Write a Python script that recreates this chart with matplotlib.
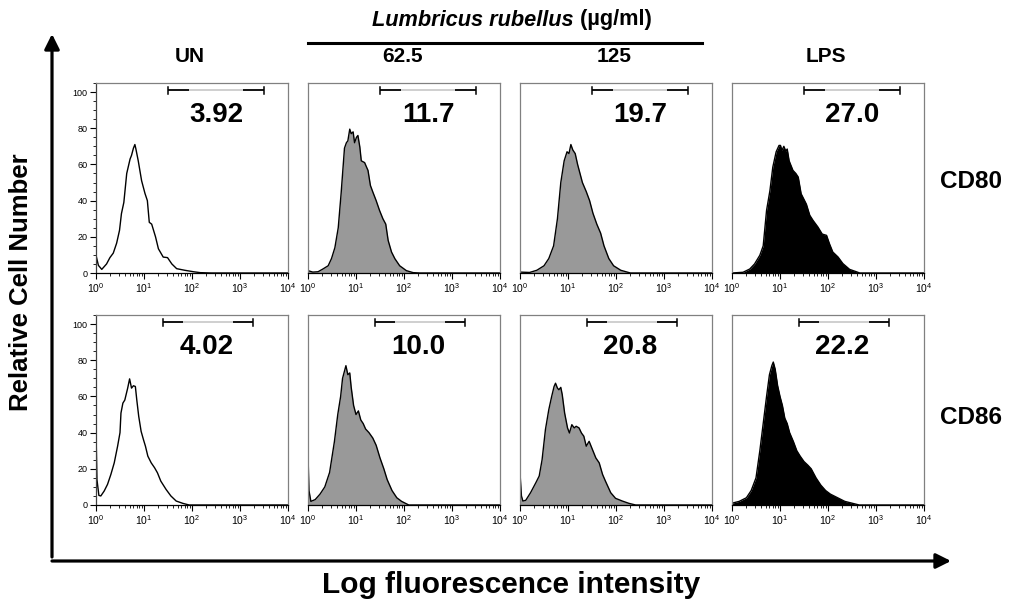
import matplotlib
matplotlib.use('Agg')
import matplotlib.pyplot as plt
from matplotlib.patches import FancyArrowPatch
from matplotlib.lines import Line2D
from matplotlib.ticker import LogLocator, MultipleLocator, NullFormatter, FixedLocator, FixedFormatter
import numpy as np

plt.rcParams['font.family'] = ['Liberation Sans', 'DejaVu Sans']
plt.rcParams['mathtext.fontset'] = 'custom'
plt.rcParams['mathtext.rm'] = 'Liberation Sans'
plt.rcParams['mathtext.it'] = 'Liberation Sans:italic'
plt.rcParams['mathtext.bf'] = 'Liberation Sans:bold'

# ---------------- data ----------------
columns = ['UN', '62.5', '125', 'LPS']
markers = ['CD80', 'CD86']
percent_cd80 = ['3.92', '11.7', '19.7', '27.0']
percent_cd86 = ['4.02', '10.0', '20.8', '22.2']
gate_cd80 = [1.5, 3.5]     # log10 intensity
gate_cd86 = [1.4, 3.27]
x_ticklabels = ['$10^{0}$', '$10^{1}$', '$10^{2}$', '$10^{3}$', '$10^{4}$']
y_ticks = [0, 20, 40, 60, 80, 100]

# CD80 histograms (log10 intensity, relative cell number)
cd80_un_x = [0, 0.05, 0.12, 0.22, 0.29, 0.36, 0.43, 0.49, 0.53, 0.58, 0.64, 0.71, 0.74, 0.78, 0.81,
             0.83, 0.88, 0.95, 1.02, 1.07, 1.11, 1.16, 1.24, 1.30, 1.40, 1.49, 1.58, 1.68, 1.85, 2.03,
             2.17, 2.4, 4.0]
cd80_un_y = [9.8, 4.2, 2, 5, 8.5, 11, 16.5, 23.6, 32.8, 39, 55, 63, 65, 69, 71,
             68.7, 62, 51, 44, 40, 28, 27, 20, 13.4, 8.8, 8.5, 5, 2.4, 1.5, 0.7,
             0.2, 0, 0]

cd80_625_x = [0, 0.1, 0.21, 0.31, 0.42, 0.49, 0.56, 0.63, 0.69, 0.76, 0.80, 0.83, 0.87, 0.90, 0.94,
              0.97, 1.01, 1.04, 1.08, 1.11, 1.18, 1.22, 1.25, 1.30, 1.35, 1.42, 1.49, 1.56, 1.62,
              1.67, 1.74, 1.81, 1.91, 2.05, 2.19, 2.33, 4.0]
cd80_625_y = [1.3, 0.5, 0.7, 2.2, 4, 8, 14, 25, 44, 69, 72, 73, 79.5, 77, 78,
              72, 75, 76, 69.6, 62, 61, 58.5, 56.7, 48.4, 44.8, 40, 34.6, 30, 27,
              18, 11.6, 7.9, 4, 1.3, 0.2, 0, 0]

cd80_125_x = [0, 0.2, 0.35, 0.5, 0.6, 0.7, 0.78, 0.85, 0.92, 0.98, 1.02, 1.06, 1.1, 1.15, 1.2,
              1.25, 1.3, 1.38, 1.45, 1.52, 1.6, 1.68, 1.75, 1.85, 1.95, 2.1, 2.3, 4.0]
cd80_125_y = [0.5, 0.3, 1.5, 4, 8, 15, 30, 50, 62, 67, 66, 71, 68, 66, 60,
              55, 50, 45, 40, 33, 27, 22, 15, 8, 4, 1.5, 0, 0]

cd80_lps_x = [0, 0.23, 0.37, 0.47, 0.58, 0.65, 0.72, 0.79, 0.85, 0.92, 0.98, 1.01, 1.04, 1.08, 1.12,
              1.15, 1.19, 1.22, 1.27, 1.33, 1.38, 1.44, 1.55, 1.62, 1.69, 1.79, 1.88, 1.97, 2.03,
              2.10, 2.21, 2.31, 2.45, 2.59, 2.66, 4.0]
cd80_lps_y = [0, 0.4, 2.2, 5, 9.8, 15, 34.6, 45.5, 58.5, 67, 70.5, 70.5, 67.8, 70, 67.4,
              68.5, 62, 60, 56.7, 55, 53, 43.8, 38, 31.9, 29, 25.4, 21.5, 20.8, 16.2,
              11.6, 8.8, 5.2, 2, 0.7, 0, 0]

# CD86 histograms
cd86_un_x = [0, 0.02, 0.06, 0.10, 0.17, 0.24, 0.31, 0.38, 0.45, 0.5, 0.52, 0.56, 0.6, 0.66, 0.70,
             0.74, 0.78, 0.82, 0.85, 0.89, 0.94, 0.99, 1.03, 1.08, 1.15, 1.22, 1.28, 1.35, 1.46,
             1.56, 1.67, 1.81, 1.94, 4.0]
cd86_un_y = [40.7, 14, 5.3, 5, 7.7, 11.4, 16.9, 23.3, 32.5, 40, 50.8, 56.3, 58, 64.6, 69.7,
             64.6, 65.9, 65.5, 58, 49, 40.7, 36, 32.5, 27, 23.3, 20.6, 17.8, 13.2, 8.6,
             5, 2.2, 0.9, 0, 0]

cd86_625_x = [0, 0.02, 0.06, 0.15, 0.25, 0.35, 0.45, 0.55, 0.62, 0.68, 0.72, 0.76, 0.79, 0.83, 0.87,
              0.9, 0.95, 1.0, 1.05, 1.1, 1.15, 1.2, 1.27, 1.35, 1.42, 1.5, 1.58, 1.65, 1.75, 1.85,
              1.95, 2.1, 4.0]
cd86_625_y = [28, 8, 2, 3, 6, 10, 18, 35, 50, 60, 70, 74, 77, 72, 73,
              65, 55, 50, 52, 47, 45, 42, 40, 37, 33, 26, 20, 14, 8, 4,
              2, 0, 0]

cd86_125_x = [0, 0.03, 0.06, 0.12, 0.22, 0.33, 0.40, 0.46, 0.53, 0.60, 0.66, 0.71, 0.74, 0.78, 0.81,
              0.85, 0.88, 0.93, 0.99, 1.03, 1.08, 1.13, 1.17, 1.23, 1.28, 1.33, 1.38, 1.44, 1.51,
              1.58, 1.65, 1.72, 1.78, 1.89, 1.99, 2.13, 2.27, 2.41, 4.0]
cd86_125_y = [17.8, 5, 2.2, 2.6, 6.8, 12.3, 16, 25, 41.7, 52.7, 60, 65.5, 67.3, 64.6, 63.7,
              65, 61, 50.8, 42.6, 39.8, 44.4, 42.6, 43.5, 42.6, 39.8, 38, 32.5, 35.2, 30.6,
              26, 23.3, 16.9, 13.2, 6.8, 3.7, 2.2, 0.9, 0, 0]

cd86_lps_x = [0, 0.15, 0.3, 0.4, 0.5, 0.58, 0.65, 0.72, 0.78, 0.83, 0.86, 0.9, 0.95, 1.0, 1.05,
              1.1, 1.15, 1.2, 1.28, 1.35, 1.42, 1.5, 1.58, 1.65, 1.75, 1.85, 1.95, 2.05, 2.2,
              2.35, 2.5, 2.65, 4.0]
cd86_lps_y = [1, 2, 4, 8, 15, 30, 45, 60, 72, 77, 79, 75, 66, 60, 55,
              48, 45, 40, 35, 30, 27, 24, 22, 20, 15, 11, 8, 6, 4,
              2, 1, 0, 0]

hist_x = [[cd80_un_x, cd80_625_x, cd80_125_x, cd80_lps_x],
          [cd86_un_x, cd86_625_x, cd86_125_x, cd86_lps_x]]
hist_y = [[cd80_un_y, cd80_625_y, cd80_125_y, cd80_lps_y],
          [cd86_un_y, cd86_625_y, cd86_125_y, cd86_lps_y]]
percents = [percent_cd80, percent_cd86]
gates = [gate_cd80, gate_cd86]
fills = [None, '#999999', '#999999', 'black']

# ---------------- layout ----------------
W, H = 1010, 600
fig = plt.figure(figsize=(W / 100, H / 100), dpi=100)
col_left = [96, 308, 520, 732]
row_top = [83, 315]
aw, ah = 192, 190
label_x = [0.625, 0.575]

def fx(px):
    return px / W

def fy(py):
    return 1 - py / H

for r in range(2):
    for c in range(4):
        ax = fig.add_axes([fx(col_left[c]), fy(row_top[r] + ah), aw / W, ah / H])
        xs = [10 ** v for v in hist_x[r][c]]
        ys = hist_y[r][c]
        if fills[c] is not None:
            ax.fill_between(xs, ys, 0, color=fills[c], lw=0)
        ax.plot(xs, ys, color='black', lw=1.0)
        ax.set_xscale('log')
        ax.set_xlim(1, 1e4)
        ax.set_ylim(0, 105)
        ax.xaxis.set_major_locator(FixedLocator([1, 10, 100, 1000, 10000]))
        ax.xaxis.set_major_formatter(FixedFormatter(x_ticklabels))
        ax.xaxis.set_minor_locator(LogLocator(base=10, subs=np.arange(2, 10), numticks=20))
        ax.xaxis.set_minor_formatter(NullFormatter())
        ax.tick_params(axis='x', which='major', length=4, width=0.8, labelsize=7.5, pad=2, direction='out')
        ax.tick_params(axis='x', which='minor', length=2.2, width=0.6, direction='out')
        if c == 0:
            ax.set_yticks(y_ticks)
            ax.yaxis.set_minor_locator(MultipleLocator(5))
            ax.tick_params(axis='y', which='major', length=4, width=0.8, labelsize=6.5, pad=2)
            ax.tick_params(axis='y', which='minor', length=2, width=0.6)
        else:
            ax.set_yticks([])
            ax.yaxis.set_minor_locator(FixedLocator([]))
        for s in ['top', 'right', 'left']:
            ax.spines[s].set_color('#808080')
            ax.spines[s].set_linewidth(0.9)
        ax.spines['bottom'].set_color('black')
        ax.spines['bottom'].set_linewidth(0.9)
        if c == 0:
            ax.spines['left'].set_color('#404040')

        # gate bar
        g0, g1 = gates[r]
        a = g0 + 0.22 * (g1 - g0)
        b = g0 + 0.78 * (g1 - g0)
        gy = 101
        ax.plot([10 ** g0, 10 ** a], [gy, gy], color='black', lw=1.3, solid_capstyle='butt')
        ax.plot([10 ** a, 10 ** b], [gy, gy], color='#cccccc', lw=1.3, solid_capstyle='butt')
        ax.plot([10 ** b, 10 ** g1], [gy, gy], color='black', lw=1.3, solid_capstyle='butt')
        ax.plot([10 ** g0, 10 ** g0], [99, 103], color='black', lw=1.1, clip_on=False)
        ax.plot([10 ** g1, 10 ** g1], [99, 103], color='black', lw=1.1, clip_on=False)

        ax.text(label_x[r], 0.83, percents[r][c], transform=ax.transAxes, ha='center', va='center',
                fontsize=20, fontweight='bold')

        if r == 0:
            ax.text(0.49, fy(57), columns[c], transform=matplotlib.transforms.blended_transform_factory(ax.transAxes, fig.transFigure),
                    ha='center', va='center', fontsize=15, fontweight='bold')

# row labels
fig.text(fx(971), fy(182), markers[0], ha='center', va='center', fontsize=17.5, fontweight='bold')
fig.text(fx(971), fy(417), markers[1], ha='center', va='center', fontsize=17.5, fontweight='bold')

# header: Lumbricus rubellus (µg/ml)
t1 = fig.text(0, fy(20), 'Lumbricus rubellus', ha='left', va='center', fontsize=15.7,
              fontweight='bold', fontstyle='italic')
t2 = fig.text(0, fy(20), ' (µg/ml)', ha='left', va='center', fontsize=15.7, fontweight='bold')
fig.canvas.draw()
rend = fig.canvas.get_renderer()
w1 = t1.get_window_extent(rend).width
w2 = t2.get_window_extent(rend).width
start = 512 - (w1 + w2) / 2
t1.set_x(fx(start))
t2.set_x(fx(start + w1))
fig.add_artist(Line2D([fx(308), fx(702)], [fy(43), fy(43)], transform=fig.transFigure,
                      color='black', lw=2.2))

# axis arrows and labels
arr_v = FancyArrowPatch((fx(52), fy(557)), (fx(52), fy(34)), transform=fig.transFigure,
                        arrowstyle='-|>,head_length=9,head_width=4.5', mutation_scale=1,
                        lw=2.3, color='black', shrinkA=0, shrinkB=0)
arr_h = FancyArrowPatch((fx(52), fy(561)), (fx(951), fy(561)), transform=fig.transFigure,
                        arrowstyle='-|>,head_length=9,head_width=4.5', mutation_scale=1,
                        lw=2.3, color='black', shrinkA=0, shrinkB=0)
fig.add_artist(arr_v)
fig.add_artist(arr_h)
fig.text(fx(21), fy(282), 'Relative Cell Number', rotation=90, ha='center', va='center',
         fontsize=18.5, fontweight='bold')
fig.text(fx(511), fy(585), 'Log fluorescence intensity', ha='center', va='center',
         fontsize=21.5, fontweight='bold')

fig.savefig('out.png', dpi=100)
